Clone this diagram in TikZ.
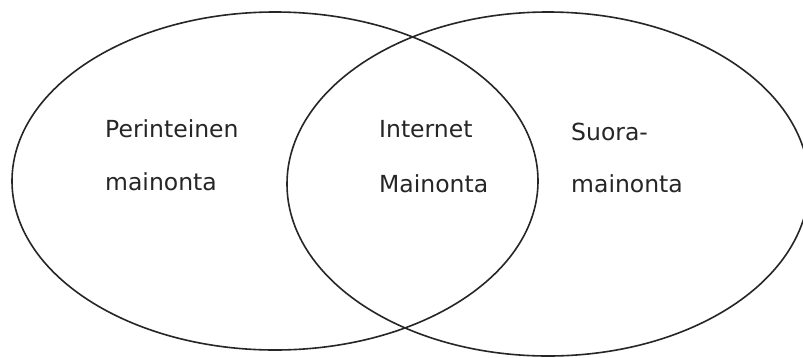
\documentclass[tikz,border=0pt]{standalone}
\usepackage{fontspec}
\setmainfont{DejaVu Sans}
\tikzset{
  setline/.style={draw=black!85, line width=1.6pt},
  lbl/.style={anchor=base west, inner sep=0pt, font=\fontsize{23.5}{28}\selectfont, text=black!85}
}
\begin{document}
\begin{tikzpicture}[x=1pt,y=-1pt]
\useasboundingbox (0,0) rectangle (803,357);
\fill[white] (0,0) rectangle (803,357);
\clip (0,0) rectangle (803,357);
\draw[setline] (275,181) ellipse [x radius=263, y radius=169];
\draw[setline] (548,184) ellipse [x radius=261, y radius=172];
\node[lbl] (p1) at (105,137) {Perinteinen};
\node[lbl] (p2) at (105,190) {mainonta};
\node[lbl] (i1) at (379,137) {Internet};
\node[lbl] (i2) at (379,192) {Mainonta};
\node[lbl] (s1) at (571,140) {Suora-};
\node[lbl] (s2) at (571,192) {mainonta};
\end{tikzpicture}
\end{document}
